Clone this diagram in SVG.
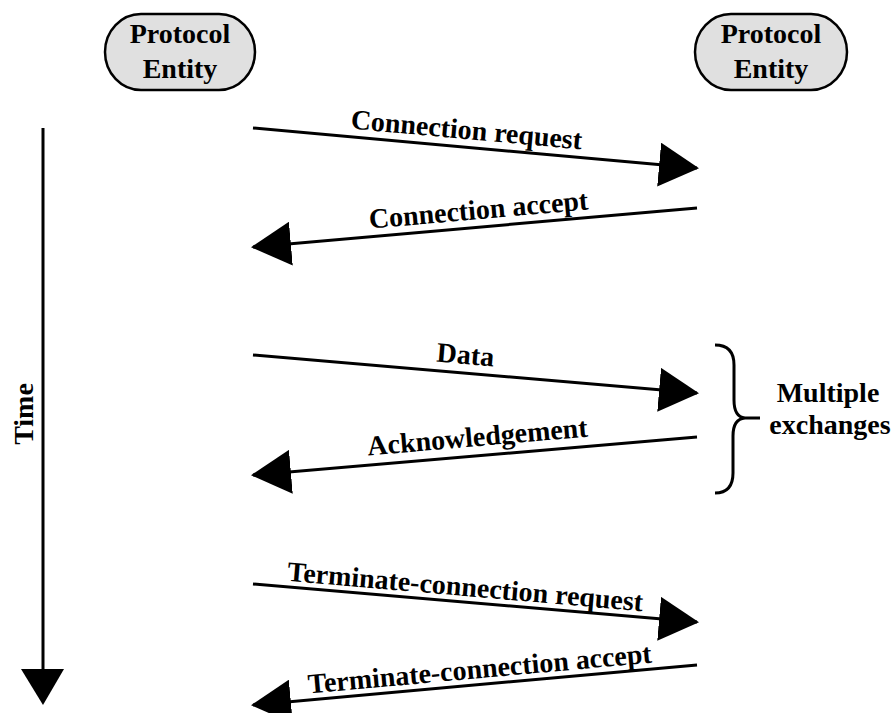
<svg xmlns="http://www.w3.org/2000/svg" width="892" height="713" viewBox="0 0 892 713">
<style>
text{font-family:"Liberation Serif","Times New Roman",serif;font-weight:bold;font-size:28px;fill:#000}
.node{fill:#e0e0e0;stroke:#000;stroke-width:2.5}
.ln{stroke:#000;stroke-width:3;fill:none}
.head{fill:#000;stroke:none}
</style>
<defs>
<marker id="ah" markerUnits="userSpaceOnUse" markerWidth="40" markerHeight="44" viewBox="0 0 40 44" refX="38" refY="22" orient="auto">
<path class="head" d="M0,0 L40,22 L0,44 Z"/>
</marker>
</defs>
<rect width="892" height="713" fill="#fff"/>
<g id="entityA">
<rect class="node" x="105" y="14" width="150" height="76" rx="36" ry="38"/>
<text x="180" y="43" text-anchor="middle">Protocol</text>
<text x="180" y="78" text-anchor="middle">Entity</text>
</g>
<g id="entityB">
<rect class="node" x="695" y="14" width="152" height="76" rx="36" ry="38"/>
<text x="771" y="43" text-anchor="middle">Protocol</text>
<text x="771" y="78" text-anchor="middle">Entity</text>
</g>
<g id="time">
<line class="ln" x1="43" y1="128" x2="43" y2="672"/>
<path class="head" d="M21,669 L64,669 L43,705 Z"/>
<text transform="translate(33,414) rotate(-90)" text-anchor="middle">Time</text>
</g>
<g id="connectors">
<line class="ln" x1="253" y1="128" x2="697" y2="168" marker-end="url(#ah)"/>
<line class="ln" x1="697" y1="208" x2="253" y2="247" marker-end="url(#ah)"/>
<line class="ln" x1="253" y1="355" x2="697" y2="393" marker-end="url(#ah)"/>
<line class="ln" x1="697" y1="437" x2="253" y2="475" marker-end="url(#ah)"/>
<line class="ln" x1="253" y1="584" x2="697" y2="622" marker-end="url(#ah)"/>
<line class="ln" x1="697" y1="665" x2="253" y2="705" marker-end="url(#ah)"/>
</g>
<g id="labels">
<text x="465" y="139" transform="rotate(5.15 465 147)" text-anchor="middle">Connection request</text>
<text x="480" y="219" transform="rotate(-5.0 480 227)" text-anchor="middle">Connection accept</text>
<text x="464" y="364" transform="rotate(4.9 464 373)" text-anchor="middle">Data</text>
<text x="479" y="446" transform="rotate(-4.9 479 456)" text-anchor="middle">Acknowledgement</text>
<text x="464" y="596" transform="rotate(4.9 464 602)" text-anchor="middle">Terminate-connection request</text>
<text x="481" y="678" transform="rotate(-5.15 481 684)" text-anchor="middle">Terminate-connection accept</text>
</g>
<g id="brace">
<path class="ln" stroke-width="2.5" d="M715,345 Q734,345 734,365 L734,400 Q734,417 745,418 L760,418 M745,418 Q733,419 733,436 L733,473 Q733,493 715,493"/>
<text x="828" y="402" text-anchor="middle">Multiple</text>
<text x="830" y="434" text-anchor="middle">exchanges</text>
</g>
</svg>
